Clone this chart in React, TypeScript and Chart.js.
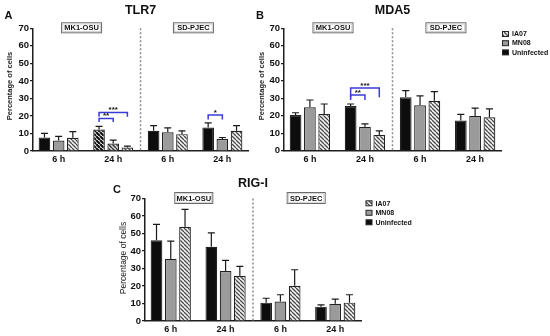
import React, { useEffect, useRef } from 'react';
import { Chart, registerables } from 'chart.js';

Chart.register(...registerables);

const FONT = "'Liberation Sans', Arial, Helvetica, sans-serif";

// ---------- data ----------
const timeLabels = ['6 h', '24 h', '6 h', '24 h'];
const cellLines = ['MK1-OSU', 'SD-PJEC'];
const seriesNames = ['Uninfected', 'MN08', 'IA07'];
const legendOrder = ['IA07', 'MN08', 'Uninfected'];
const yTickValues = [0, 10, 20, 30, 40, 50, 60, 70];

// TLR7 (% of cells, mean and upper SEM)
const tlr7Uninfected = [7.7, 12.2, 11.5, 13.4];
const tlr7MN08 = [6.0, 4.3, 10.7, 6.8];
const tlr7IA07 = [7.6, 2.0, 9.6, 11.5];
const tlr7UninfectedSem = [2.3, 1.8, 3.0, 2.6];
const tlr7MN08Sem = [2.3, 1.9, 2.5, 0.9];
const tlr7IA07Sem = [3.4, 0.8, 1.9, 3.0];

// MDA5
const mda5Uninfected = [20.4, 25.6, 30.5, 17.2];
const mda5MN08 = [24.8, 13.7, 26.0, 19.9];
const mda5IA07 = [21.0, 9.0, 28.6, 19.1];
const mda5UninfectedSem = [1.3, 1.1, 3.8, 3.6];
const mda5MN08Sem = [4.2, 1.6, 5.3, 4.4];
const mda5IA07Sem = [5.7, 2.3, 5.2, 4.8];

// RIG-I
const rigiUninfected = [46.2, 42.4, 10.5, 8.2];
const rigiMN08 = [35.5, 28.6, 11.1, 9.8];
const rigiIA07 = [53.9, 25.9, 20.1, 10.5];
const rigiUninfectedSem = [9.0, 8.0, 2.5, 1.0];
const rigiMN08Sem = [10.1, 6.1, 3.9, 2.7];
const rigiIA07Sem = [9.9, 5.3, 9.2, 4.5];

// significance brackets (group index, series from/to, bracket heights in % units)
const tlr7Sig = [
  { group: 1, from: 0, to: 2, top: 22, leg: 19.5, label: '***' },
  { group: 1, from: 0, to: 1, top: 18.6, leg: 16.5, label: '**' },
  { group: 3, from: 0, to: 1, top: 20.5, leg: 18, label: '*' },
];
const mda5Sig = [
  { group: 1, from: 0, to: 2, top: 35.8, leg: 30.5, label: '***' },
  { group: 1, from: 0, to: 1, top: 31.8, leg: 29, label: '**' },
];
const rigiSig: any[] = [];

// bars drawn with a hatched fill in the TLR7 panel
const tlr7HatchOverrides = [
  { series: 0, group: 1, kind: 'dark' },
  { series: 1, group: 1, kind: 'mid' },
];

// ---------- layout per panel ----------
const panels = [
  {
    title: 'TLR7', letter: 'A', letterX: 8.5, letterY: 16,
    values: [tlr7Uninfected, tlr7MN08, tlr7IA07],
    errs: [tlr7UninfectedSem, tlr7MN08Sem, tlr7IA07Sem],
    sig: tlr7Sig, overrides: tlr7HatchOverrides,
    area: { left: 33, right: 248, top: 28.3, bottom: 151 },
    yAxisWidth: 33, xAxisHeight: 20, titleY: 11,
    yTitle: { x: 9.5, y: 86, bold: true, size: 7.5 },
    box: { w: 40, h: 10 }, legend: null as any,
  },
  {
    title: 'MDA5', letter: 'B', letterX: 260, letterY: 16,
    values: [mda5Uninfected, mda5MN08, mda5IA07],
    errs: [mda5UninfectedSem, mda5MN08Sem, mda5IA07Sem],
    sig: mda5Sig, overrides: [],
    area: { left: 284, right: 501, top: 28.3, bottom: 150.7 },
    yAxisWidth: 30, xAxisHeight: 20, titleY: 11,
    yTitle: { x: 261.5, y: 86, bold: true, size: 7.5 },
    box: { w: 40, h: 10 }, legend: { x: 502.5, y: 34, dy: 9.2 },
  },
  {
    title: 'RIG-I', letter: 'C', letterX: 117, letterY: 190,
    values: [rigiUninfected, rigiMN08, rigiIA07],
    errs: [rigiUninfectedSem, rigiMN08Sem, rigiIA07Sem],
    sig: rigiSig, overrides: [],
    area: { left: 145, right: 361, top: 198.5, bottom: 321 },
    yAxisWidth: 30, xAxisHeight: 15, titleY: 183.3,
    yTitle: { x: 124, y: 258, bold: false, size: 8.5 },
    box: { w: 38, h: 11 }, legend: { x: 366, y: 203.3, dy: 9.5 },
  },
];

function makeHatch(ctx: CanvasRenderingContext2D, bg: string, fg: string, lw: number, s: number) {
  const c = document.createElement('canvas');
  c.width = s;
  c.height = s;
  const g = c.getContext('2d')!;
  g.fillStyle = bg;
  g.fillRect(0, 0, s, s);
  g.strokeStyle = fg;
  g.lineWidth = lw;
  g.beginPath();
  for (const k of [-s, 0, s]) {
    g.moveTo(k, 0);
    g.lineTo(k + s, s);
  }
  g.stroke();
  return ctx.createPattern(c, 'repeat')!;
}

function buildChart(canvas: HTMLCanvasElement, p: any) {
  const ctx = canvas.getContext('2d')!;
  const hatch = makeHatch(ctx, '#f4f4f4', '#4a4a4a', 1.3, 4);
  const darkHatch = makeHatch(ctx, '#ffffff', '#111111', 2.2, 4);
  const midHatch = makeHatch(ctx, '#d8d8d8', '#333333', 1.4, 4);
  const baseFill: any[] = ['#0d0d0d', '#9b9b9b', hatch];

  const datasets = p.values.map((vals: number[], si: number) => ({
    label: seriesNames[si],
    data: vals.map((v, i) => ({ x: i, y: v })),
    backgroundColor: vals.map((_, i) => {
      const o = p.overrides.find((q: any) => q.series === si && q.group === i);
      if (o) return o.kind === 'dark' ? darkHatch : midHatch;
      return baseFill[si];
    }),
    borderColor: '#222222',
    borderWidth: 1.2,
    barPercentage: 0.82,
    categoryPercentage: 0.78,
  }));

  const decor = {
    id: 'decor',
    afterDatasetsDraw(chart: any) {
      const c = chart.ctx;
      const y = chart.scales.y;
      c.save();
      c.strokeStyle = '#1a1a1a';
      c.lineWidth = 1.2;
      chart.data.datasets.forEach((_: any, di: number) => {
        const meta = chart.getDatasetMeta(di);
        meta.data.forEach((bar: any, i: number) => {
          const top = y.getPixelForValue(p.values[di][i] + p.errs[di][i]);
          const hw = bar.width * 0.3;
          c.beginPath();
          c.moveTo(bar.x, bar.y);
          c.lineTo(bar.x, top);
          c.moveTo(bar.x - hw, top);
          c.lineTo(bar.x + hw, top);
          c.stroke();
        });
      });
      c.restore();
    },
    afterDraw(chart: any) {
      const c = chart.ctx;
      const a = chart.chartArea;
      const x = chart.scales.x;
      const y = chart.scales.y;
      c.save();
      // divider between cell lines
      c.strokeStyle = '#8a8a8a';
      c.lineWidth = 1.5;
      c.setLineDash([2, 2]);
      const dx = x.getPixelForValue(1.5);
      c.beginPath();
      c.moveTo(dx, a.top);
      c.lineTo(dx, a.bottom);
      c.stroke();
      c.setLineDash([]);

      // cell line boxes
      [0.42, 2.47].forEach((pos, k) => {
        const cx = x.getPixelForValue(pos);
        const cy = a.top - 0.5;
        const w = p.box.w;
        const h = p.box.h;
        c.fillStyle = '#ffffff';
        c.fillRect(cx - w / 2, cy - h / 2, w, h);
        c.strokeStyle = '#6a6a6a';
        c.lineWidth = 1;
        c.strokeRect(cx - w / 2, cy - h / 2, w, h);
        c.strokeStyle = '#cfcfcf';
        c.strokeRect(cx - w / 2 + 1.2, cy - h / 2 + 1.2, w - 2.4, h - 2.4);
        c.fillStyle = '#111';
        c.font = `bold 7.5px ${FONT}`;
        c.textAlign = 'center';
        c.textBaseline = 'middle';
        c.fillText(cellLines[k], cx, cy + 0.5);
      });

      // significance brackets
      p.sig.forEach((s: any) => {
        const b0 = chart.getDatasetMeta(s.from).data[s.group];
        const b1 = chart.getDatasetMeta(s.to).data[s.group];
        const yt = y.getPixelForValue(s.top);
        const yl = y.getPixelForValue(s.leg);
        c.strokeStyle = '#3b3bd8';
        c.lineWidth = 1.5;
        c.beginPath();
        c.moveTo(b0.x, yl);
        c.lineTo(b0.x, yt);
        c.lineTo(b1.x, yt);
        c.lineTo(b1.x, yl);
        c.stroke();
        c.fillStyle = '#111';
        c.font = `bold 8px ${FONT}`;
        c.textAlign = 'center';
        c.textBaseline = 'alphabetic';
        c.fillText(s.label, (b0.x + b1.x) / 2, yt);
      });

      // title
      c.fillStyle = '#111';
      c.font = `bold 12.5px ${FONT}`;
      c.textAlign = 'center';
      c.textBaseline = 'middle';
      c.fillText(p.title, (a.left + a.right) / 2, p.titleY);

      // panel letter
      c.font = `bold 11px ${FONT}`;
      c.fillText(p.letter, p.letterX, p.letterY);

      // y title
      c.save();
      c.translate(p.yTitle.x, p.yTitle.y);
      c.rotate(-Math.PI / 2);
      c.font = `${p.yTitle.bold ? 'bold ' : ''}${p.yTitle.size}px ${FONT}`;
      c.fillStyle = '#222';
      c.fillText('Percentage of cells', 0, 0);
      c.restore();

      // legend
      if (p.legend) {
        const fills: any = { Uninfected: baseFill[0], MN08: baseFill[1], IA07: baseFill[2] };
        legendOrder.forEach((name, k) => {
          const ly = p.legend.y + k * p.legend.dy;
          c.fillStyle = fills[name];
          c.fillRect(p.legend.x, ly - 2.5, 6, 5);
          c.strokeStyle = '#262626';
          c.lineWidth = 1;
          c.strokeRect(p.legend.x, ly - 2.5, 6, 5);
          c.fillStyle = '#111';
          c.font = `bold 7px ${FONT}`;
          c.textAlign = 'left';
          c.textBaseline = 'middle';
          c.fillText(name, p.legend.x + 9.5, ly + 0.3);
        });
      }
      c.restore();
    },
  };

  const tickFont = { family: FONT, size: 9.5, weight: 'bold' as const };

  return new Chart(canvas, {
    type: 'bar',
    data: { datasets },
    options: {
      responsive: false,
      animation: false,
      events: [],
      layout: {
        padding: {
          left: p.area.left - p.yAxisWidth,
          right: 550 - p.area.right,
          top: p.area.top,
          bottom: 336 - p.area.bottom - p.xAxisHeight,
        },
      },
      plugins: { legend: { display: false }, tooltip: { enabled: false }, title: { display: false } },
      scales: {
        x: {
          type: 'linear',
          min: -0.47,
          max: 3.47,
          offset: false,
          grid: { display: false, drawTicks: false },
          border: { display: true, color: '#1e1e1e', width: 1.5 },
          afterBuildTicks: (s: any) => {
            s.ticks = timeLabels.map((_, i) => ({ value: i }));
          },
          afterFit: (s: any) => {
            s.height = p.xAxisHeight;
          },
          ticks: {
            callback: (v: any) => timeLabels[Math.round(Number(v))] ?? '',
            font: { family: FONT, size: 9, weight: 'bold' },
            color: '#111',
            padding: 3,
            maxRotation: 0,
            autoSkip: false,
          },
        },
        y: {
          type: 'linear',
          min: 0,
          max: 70,
          afterBuildTicks: (s: any) => {
            s.ticks = yTickValues.map((v) => ({ value: v }));
          },
          afterFit: (s: any) => {
            s.width = p.yAxisWidth;
          },
          grid: { drawOnChartArea: false, drawTicks: true, tickLength: 3, color: '#1e1e1e', lineWidth: 1.2 },
          border: { display: true, color: '#1e1e1e', width: 1.5 },
          ticks: { font: tickFont, color: '#111', padding: 1 },
        },
      },
    } as any,
    plugins: [decor],
  });
}

function PanelChart({ spec }: { spec: any }) {
  const ref = useRef<HTMLCanvasElement>(null);
  useEffect(() => {
    const chart = buildChart(ref.current!, spec);
    return () => chart.destroy();
  }, [spec]);
  return (
    <canvas
      ref={ref}
      width={550}
      height={336}
      style={{ position: 'absolute', left: 0, top: 0, width: 550, height: 336 }}
    />
  );
}

export default function App() {
  return (
    <div style={{ position: 'absolute', left: 0, top: 0, width: 550, height: 336, background: '#ffffff' }}>
      {panels.map((p) => (
        <PanelChart key={p.title} spec={p} />
      ))}
    </div>
  );
}
